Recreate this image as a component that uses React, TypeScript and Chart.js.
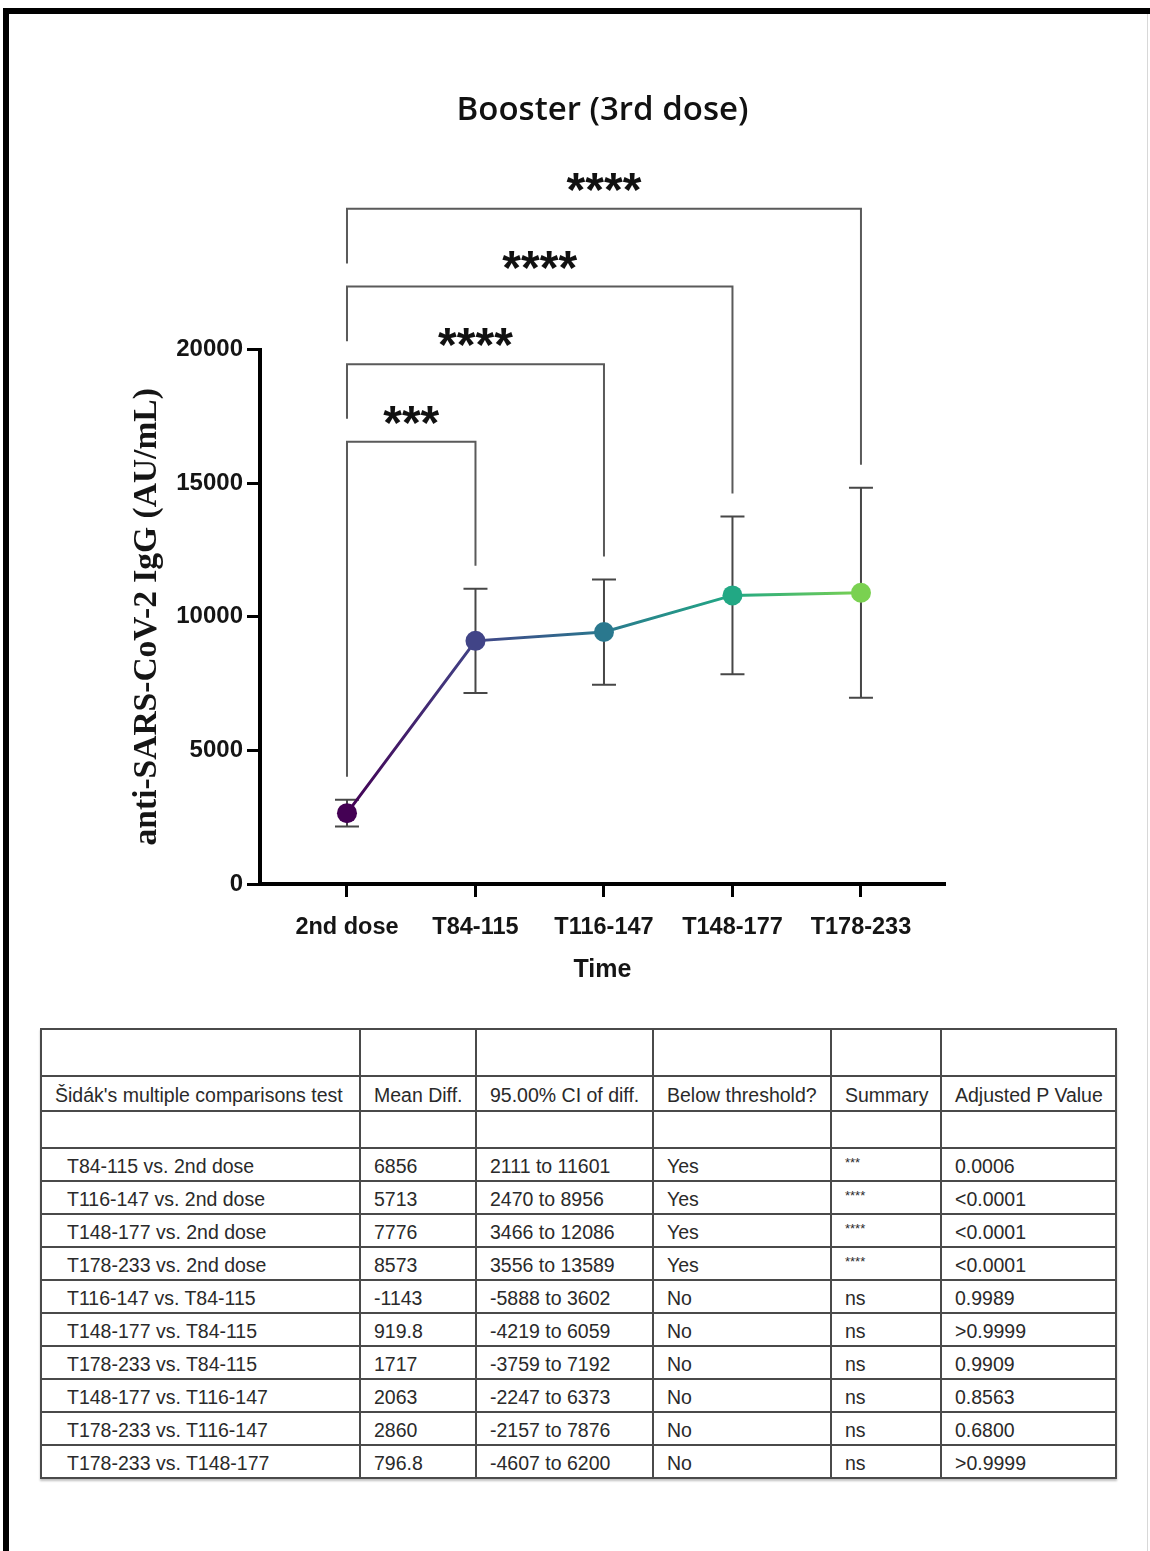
import React, { useEffect, useRef } from 'react';
import { Chart, registerables } from 'chart.js';

Chart.register(...registerables);

// ---- chart data ----
const categories = ['2nd dose', 'T84-115', 'T116-147', 'T148-177', 'T178-233'];
const means = [2650, 9100, 9430, 10800, 10900];
const errors = [500, 1950, 1970, 2950, 3930];
const pointColors = ['#440154', '#414487', '#2a788e', '#22a884', '#7ad151'];
const yTicks = [0, 5000, 10000, 15000, 20000];

// significance brackets (all vs. 2nd dose)
const bracketTargets = [1, 2, 3, 4];
const bracketLabels = ['***', '****', '****', '****'];
const bracketLevels = [16550, 19450, 22360, 25270];

// ---- table data ----
const tableHeaders = ["Šidák's multiple comparisons test", 'Mean Diff.', '95.00% CI of diff.', 'Below threshold?', 'Summary', 'Adjusted P Value'];
const comparisons = [
  'T84-115 vs. 2nd dose', 'T116-147 vs. 2nd dose', 'T148-177 vs. 2nd dose', 'T178-233 vs. 2nd dose',
  'T116-147 vs. T84-115', 'T148-177 vs. T84-115', 'T178-233 vs. T84-115',
  'T148-177 vs. T116-147', 'T178-233 vs. T116-147', 'T178-233 vs. T148-177',
];
const meanDiffs = ['6856', '5713', '7776', '8573', '-1143', '919.8', '1717', '2063', '2860', '796.8'];
const ciDiffs = ['2111 to 11601', '2470 to 8956', '3466 to 12086', '3556 to 13589', '-5888 to 3602', '-4219 to 6059', '-3759 to 7192', '-2247 to 6373', '-2157 to 7876', '-4607 to 6200'];
const belowThreshold = ['Yes', 'Yes', 'Yes', 'Yes', 'No', 'No', 'No', 'No', 'No', 'No'];
const summaries = ['***', '****', '****', '****', 'ns', 'ns', 'ns', 'ns', 'ns', 'ns'];
const adjustedP = ['0.0006', '<0.0001', '<0.0001', '<0.0001', '0.9989', '>0.9999', '0.9909', '0.8563', '0.6800', '>0.9999'];

const colWidths = [319, 116, 177, 178, 110, 175];

const annotPlugin = {
  id: 'annot',
  beforeDatasetsDraw(chart: any) {
    const { ctx, scales } = chart;
    const x = scales.x;
    const y = scales.y;
    ctx.save();
    ctx.strokeStyle = '#474747';
    ctx.lineWidth = 2;
    means.forEach((m, i) => {
      const px = x.getPixelForValue(i);
      const top = y.getPixelForValue(m + errors[i]);
      const bot = y.getPixelForValue(m - errors[i]);
      ctx.beginPath();
      ctx.moveTo(px, top);
      ctx.lineTo(px, bot);
      ctx.moveTo(px - 12, top);
      ctx.lineTo(px + 12, top);
      ctx.moveTo(px - 12, bot);
      ctx.lineTo(px + 12, bot);
      ctx.stroke();
    });
    ctx.restore();
  },
  afterDraw(chart: any) {
    const { ctx, scales } = chart;
    const x = scales.x;
    const y = scales.y;
    const gap = 23;
    ctx.save();
    ctx.strokeStyle = '#5a5a5a';
    ctx.lineWidth = 2;
    ctx.fillStyle = '#111';
    ctx.font = 'bold 48px "Liberation Sans", Arial, sans-serif';
    ctx.textAlign = 'center';
    ctx.textBaseline = 'alphabetic';
    bracketTargets.forEach((t, k) => {
      const x0 = x.getPixelForValue(0);
      const x1 = x.getPixelForValue(t);
      const yl = y.getPixelForValue(bracketLevels[k]);
      const leftEnd = k === 0
        ? y.getPixelForValue(means[0] + errors[0]) - gap
        : y.getPixelForValue(bracketLevels[k - 1]) - gap;
      const rightEnd = y.getPixelForValue(means[t] + errors[t]) - gap;
      ctx.beginPath();
      ctx.moveTo(x0, leftEnd);
      ctx.lineTo(x0, yl);
      ctx.lineTo(x1, yl);
      ctx.lineTo(x1, rightEnd);
      ctx.stroke();
      ctx.fillText(bracketLabels[k], (x0 + x1) / 2, yl - 3);
    });
    ctx.restore();
  },
};

function ChartCanvas() {
  const ref = useRef<HTMLCanvasElement | null>(null);
  useEffect(() => {
    if (!ref.current) return;
    const chart = new Chart(ref.current, {
      type: 'line',
      data: {
        datasets: [
          {
            data: means.map((m, i) => ({ x: i, y: m })),
            borderWidth: 3,
            borderColor: (c: any) => {
              const ch = c.chart;
              if (!ch.chartArea) return pointColors[0];
              const xs = ch.scales.x;
              const g = ch.ctx.createLinearGradient(xs.getPixelForValue(0), 0, xs.getPixelForValue(categories.length - 1), 0);
              pointColors.forEach((col, i) => g.addColorStop(i / (pointColors.length - 1), col));
              return g;
            },
            pointBackgroundColor: pointColors,
            pointBorderColor: pointColors,
            pointRadius: 10,
            pointBorderWidth: 0,
            tension: 0,
          },
        ],
      },
      options: {
        animation: false,
        responsive: false,
        devicePixelRatio: 1,
        layout: { padding: { left: 0, right: 205, top: 0, bottom: 0 } },
        plugins: {
          legend: { display: false },
          tooltip: { enabled: false },
          title: {
            display: true,
            text: 'Booster (3rd dose)',
            fullSize: false,
            color: '#111',
            font: { family: '"Open Sans", sans-serif', size: 33, weight: '600' },
            padding: { top: 91, bottom: 219 },
          },
        },
        scales: {
          x: {
            type: 'linear',
            min: -0.677,
            max: 4.654,
            afterBuildTicks: (s: any) => {
              s.ticks = categories.map((_, i) => ({ value: i }));
            },
            afterFit: (s: any) => {
              s.height = 126;
            },
            ticks: {
              autoSkip: false,
              maxRotation: 0,
              padding: 16,
              color: '#151515',
              font: { family: '"Liberation Sans", Arial, sans-serif', size: 23.5, weight: 'bold' },
              callback: (v: any) => categories[v] ?? '',
            },
            grid: { display: true, drawOnChartArea: false, drawTicks: true, tickLength: 13, tickWidth: 3, color: '#000', tickColor: '#000' },
            border: { display: true, width: 4, color: '#000' },
            title: {
              display: true,
              text: 'Time',
              color: '#151515',
              font: { family: '"Liberation Sans", Arial, sans-serif', size: 25, weight: 'bold' },
              padding: { top: 0, bottom: 25 },
            },
          },
          y: {
            type: 'linear',
            min: 0,
            max: 20000,
            afterBuildTicks: (s: any) => {
              s.ticks = yTicks.map((v) => ({ value: v }));
            },
            afterFit: (s: any) => {
              s.width = 260;
            },
            ticks: {
              padding: 4,
              color: '#151515',
              font: { family: '"Liberation Sans", Arial, sans-serif', size: 24, weight: 'bold' },
              callback: (v: any) => String(v),
            },
            grid: { display: true, drawOnChartArea: false, drawTicks: true, tickLength: 13, tickWidth: 3, color: '#000', tickColor: '#000' },
            border: { display: true, width: 4, color: '#000' },
            title: {
              display: true,
              text: 'anti-SARS-CoV-2 IgG (AU/mL)',
              color: '#151515',
              font: { family: '"Liberation Serif", "Times New Roman", serif', size: 33.5, weight: 'bold' },
              padding: { top: 127, bottom: 0 },
            },
          },
        },
      },
      plugins: [annotPlugin],
    } as any);
    return () => chart.destroy();
  }, []);
  return (
    <canvas
      ref={ref}
      width={1150}
      height={1010}
      style={{ position: 'absolute', left: 0, top: 0, width: 1150, height: 1010, display: 'block' }}
    />
  );
}

const cellBase: React.CSSProperties = {
  border: '2px solid #4a4a4a',
  padding: '3px 0 0 13px',
  textAlign: 'left',
  verticalAlign: 'middle',
  whiteSpace: 'nowrap',
  overflow: 'hidden',
};

function StatsTable() {
  const blankRow = (h: number) => (
    <tr style={{ height: h }}>
      {colWidths.map((_, i) => (
        <td key={i} style={cellBase}></td>
      ))}
    </tr>
  );
  return (
    <table
      style={{
        position: 'absolute',
        left: 40,
        top: 1028,
        width: 1075,
        borderCollapse: 'collapse',
        tableLayout: 'fixed',
        fontFamily: '"Liberation Sans", Arial, sans-serif',
        fontSize: 19.5,
        color: '#2a2a2a',
        boxShadow: '0 2px 2px rgba(0,0,0,0.25)',
      }}
    >
      <colgroup>
        {colWidths.map((w, i) => (
          <col key={i} style={{ width: w }} />
        ))}
      </colgroup>
      <tbody>
        {blankRow(47)}
        <tr style={{ height: 35 }}>
          {tableHeaders.map((h, i) => (
            <td key={i} style={cellBase}>{h}</td>
          ))}
        </tr>
        {blankRow(37)}
        {comparisons.map((c, r) => (
          <tr key={r} style={{ height: 33 }}>
            <td style={{ ...cellBase, paddingLeft: 25 }}>{c}</td>
            <td style={cellBase}>{meanDiffs[r]}</td>
            <td style={cellBase}>{ciDiffs[r]}</td>
            <td style={cellBase}>{belowThreshold[r]}</td>
            <td style={cellBase}>
              {summaries[r] === 'ns' ? (
                'ns'
              ) : (
                <span style={{ fontSize: 13, position: 'relative', top: -6 }}>{summaries[r]}</span>
              )}
            </td>
            <td style={cellBase}>{adjustedP[r]}</td>
          </tr>
        ))}
      </tbody>
    </table>
  );
}

export default function App() {
  return (
    <div
      style={{
        position: 'absolute',
        left: 0,
        top: 0,
        width: 1150,
        height: 1551,
        background: '#fff',
        overflow: 'hidden',
      }}
    >
      <div
        style={{
          position: 'absolute',
          left: 3,
          top: 8,
          width: 1150,
          height: 1560,
          borderTop: '6px solid #000',
          borderLeft: '6px solid #000',
          boxSizing: 'border-box',
        }}
      />
      <div style={{ position: 'absolute', left: 1147, top: 14, width: 1, height: 1540, background: '#d8d8d8' }} />
      <ChartCanvas />
      <StatsTable />
    </div>
  );
}
